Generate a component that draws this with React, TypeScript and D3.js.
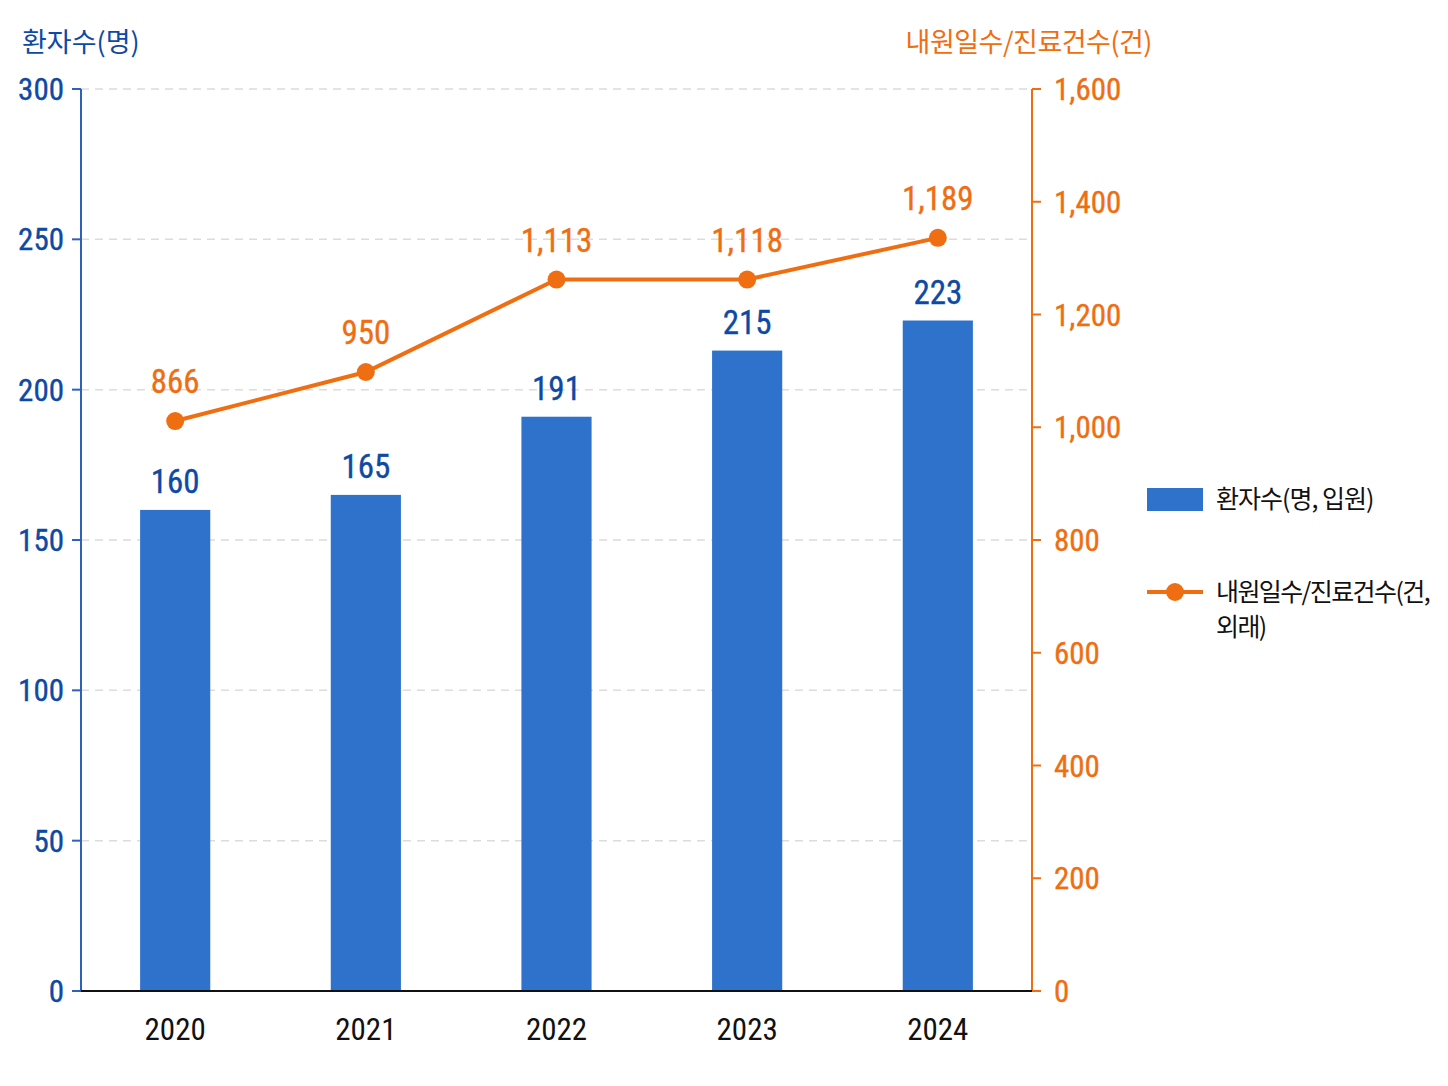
import React from "react";
import * as d3 from "d3";

const years = ["2020", "2021", "2022", "2023", "2024"];
const patientLabels = [160, 165, 191, 215, 223];
const patientPlotted = [160, 165, 191, 213, 223];
const visitLabels = [866, 950, 1113, 1118, 1189];
const visitPlotted = [1011, 1098, 1262, 1262, 1336];
const leftTicks = [0, 50, 100, 150, 200, 250, 300];
const rightTicks = [0, 200, 400, 600, 800, 1000, 1200, 1400, 1600];
const leftTitle = "환자수(명)";
const rightTitle = "내원일수/진료건수(건)";
const legendBar = "환자수(명, 입원)";
const legendLine1 = "내원일수/진료건수(건,";
const legendLine2 = "외래)";

const W = 1448;
const H = 1086;
const X0 = 81;
const X1 = 1032;
const Y0 = 991;
const Y1 = 89;

const BLUE_TEXT = "#0e4aa3";
const BLUE_AXIS = "#2d62b8";
const BAR = "#2e72cc";
const ORANGE = "#ef6e12";
const NUM_FONT = "'Liberation Sans Narrow', 'Roboto Condensed', 'DejaVu Sans Condensed', Roboto, sans-serif";
const KR_FONT = "'Noto Sans CJK KR', 'Noto Sans', sans-serif";

export default function App() {
  const x = d3
    .scaleBand<string>()
    .domain(years)
    .range([X0, X1])
    .paddingInner(0.632)
    .paddingOuter(0.31);
  const yL = d3.scaleLinear().domain([0, 300]).range([Y0, Y1]);
  const yR = d3.scaleLinear().domain([0, 1600]).range([Y0, Y1]);
  const cx = (d: string) => (x(d) as number) + x.bandwidth() / 2;

  const line = d3
    .line<number>()
    .x((_, i) => cx(years[i]))
    .y((v) => yR(v));

  const fmt = d3.format(",");

  const numStyle = (fill: string, size: number, sw = 0.35) => ({
    fontFamily: NUM_FONT,
    fontSize: size,
    fill,
    stroke: fill,
    strokeWidth: sw,
  });

  return (
    <svg
      width={W}
      height={H}
      viewBox={`0 0 ${W} ${H}`}
      style={{ position: "absolute", left: 0, top: 0, display: "block", background: "#fff" }}
    >
      {/* gridlines */}
      {leftTicks
        .filter((t) => t > 0)
        .map((t) => (
          <line
            key={"g" + t}
            x1={X0}
            x2={X1}
            y1={yL(t)}
            y2={yL(t)}
            stroke="#dcdcdc"
            strokeWidth={1.5}
            strokeDasharray="8 6"
          />
        ))}

      {/* bars */}
      {years.map((yr, i) => (
        <rect
          key={"b" + yr}
          x={x(yr)}
          y={yL(patientPlotted[i])}
          width={x.bandwidth()}
          height={Y0 - yL(patientPlotted[i])}
          fill={BAR}
        />
      ))}

      {/* bar labels */}
      {years.map((yr, i) => (
        <text
          key={"bl" + yr}
          x={cx(yr)}
          y={yL(patientPlotted[i]) - 17}
          textAnchor="middle"
          style={numStyle(BLUE_TEXT, 33)}
        >
          {patientLabels[i]}
        </text>
      ))}

      {/* left axis */}
      <line x1={X0} x2={X0} y1={Y1} y2={Y0} stroke={BLUE_AXIS} strokeWidth={2} />
      {leftTicks.map((t) => (
        <g key={"lt" + t}>
          <line x1={X0 - 9} x2={X0} y1={yL(t)} y2={yL(t)} stroke={BLUE_AXIS} strokeWidth={2} />
          <text
            x={X0 - 17}
            y={yL(t)}
            dy="0.36em"
            textAnchor="end"
            style={numStyle(BLUE_TEXT, 31)}
          >
            {t}
          </text>
        </g>
      ))}

      {/* right axis */}
      <line x1={X1} x2={X1} y1={Y1} y2={Y0} stroke={ORANGE} strokeWidth={2} />
      {rightTicks.map((t) => (
        <g key={"rt" + t}>
          <line x1={X1} x2={X1 + 9} y1={yR(t)} y2={yR(t)} stroke={ORANGE} strokeWidth={2} />
          <text
            x={X1 + 22}
            y={yR(t)}
            dy="0.36em"
            textAnchor="start"
            style={numStyle(ORANGE, 31)}
          >
            {fmt(t)}
          </text>
        </g>
      ))}

      {/* baseline */}
      <line x1={X0} x2={X1} y1={Y0} y2={Y0} stroke="#111" strokeWidth={2} />

      {/* x labels */}
      {years.map((yr) => (
        <text
          key={"xl" + yr}
          x={cx(yr)}
          y={1040}
          textAnchor="middle"
          style={numStyle("#111", 31, 0)}
        >
          {yr}
        </text>
      ))}

      {/* line */}
      <path d={line(visitPlotted) || ""} fill="none" stroke={ORANGE} strokeWidth={4} />
      {years.map((yr, i) => (
        <circle key={"c" + yr} cx={cx(yr)} cy={yR(visitPlotted[i])} r={9} fill={ORANGE} />
      ))}
      {years.map((yr, i) => (
        <text
          key={"ll" + yr}
          x={cx(yr)}
          y={yR(visitPlotted[i]) - 28}
          textAnchor="middle"
          style={numStyle(ORANGE, 33)}
        >
          {fmt(visitLabels[i])}
        </text>
      ))}

      {/* axis titles */}
      <text x={22} y={52} fontFamily={KR_FONT} fontSize={27} fill={BLUE_TEXT}>
        {leftTitle}
      </text>
      <text
        x={1152}
        y={52}
        textAnchor="end"
        fontFamily={KR_FONT}
        fontSize={27}
        letterSpacing={-0.5}
        fill={ORANGE}
      >
        {rightTitle}
      </text>

      {/* legend */}
      <rect x={1147} y={488} width={56} height={23} fill={BAR} />
      <text
        x={1216}
        y={499}
        dy="0.36em"
        fontFamily={KR_FONT}
        fontSize={25}
        letterSpacing={-1}
        fill="#111"
      >
        {legendBar}
      </text>
      <line x1={1147} x2={1203} y1={592} y2={592} stroke={ORANGE} strokeWidth={4} />
      <circle cx={1175} cy={592} r={9} fill={ORANGE} />
      <text
        x={1216}
        y={592}
        dy="0.36em"
        fontFamily={KR_FONT}
        fontSize={25}
        letterSpacing={-1.6}
        fill="#111"
      >
        {legendLine1}
      </text>
      <text
        x={1216}
        y={627}
        dy="0.36em"
        fontFamily={KR_FONT}
        fontSize={25}
        letterSpacing={-1.6}
        fill="#111"
      >
        {legendLine2}
      </text>
    </svg>
  );
}
